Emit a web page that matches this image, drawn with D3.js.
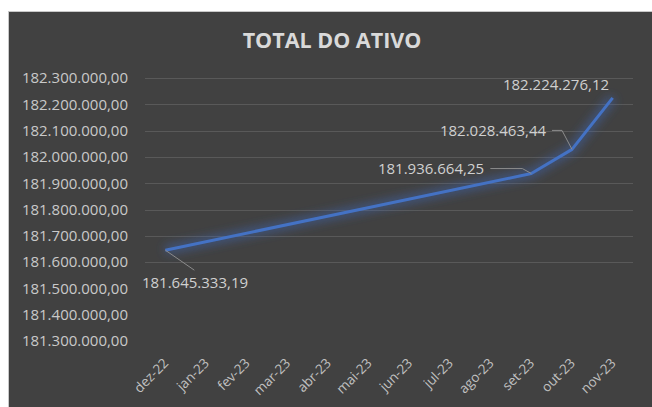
<!DOCTYPE html>
<html><head><meta charset="utf-8">
<script src="https://cdn.jsdelivr.net/npm/d3@7"></script>
<style>
html,body{margin:0;padding:0;background:#fff;}
svg{display:block;}
</style></head>
<body>
<svg id="c" width="652" height="407"></svg>
<script>
const categories = ["dez-22","jan-23","fev-23","mar-23","abr-23","mai-23","jun-23","jul-23","ago-23","set-23","out-23","nov-23"];
const values = [181645333.19, null, null, null, null, null, null, null, null, 181936664.25, 182028463.44, 182224276.12];
const yTicks = [181300000,181400000,181500000,181600000,181700000,181800000,181900000,182000000,182100000,182200000,182300000];
const gridTicks = [181600000,181700000,181800000,181900000,182000000,182100000,182200000,182300000];
const title = "TOTAL DO ATIVO";

const svg = d3.select("#c");
svg.append("rect").attr("x",8.5).attr("y",11.5).attr("width",660).attr("height",420)
  .attr("fill","#414141").attr("stroke","#c8c8c8").attr("stroke-width",1);

const defs = svg.append("defs");
const f = defs.append("filter").attr("id","glow").attr("x","-20%").attr("y","-50%").attr("width","140%").attr("height","200%");
f.append("feGaussianBlur").attr("in","SourceGraphic").attr("stdDeviation",5);

const x = d3.scaleBand().domain(categories).range([145,633]);
const y = d3.scaleLinear().domain([181300000,182300000]).range([341,78]);

const fmt = v => {
  const s = v.toFixed(2).split(".");
  return s[0].replace(/\B(?=(\d{3})+(?!\d))/g,".") + "," + s[1];
};

svg.append("text").attr("x",332).attr("y",48).attr("text-anchor","middle")
  .attr("font-family","Open Sans").attr("font-weight","bold").attr("font-size",21.5)
  .attr("fill","#d9d9d9").text(title);

svg.append("g").selectAll("line").data(gridTicks).join("line")
  .attr("x1",145).attr("x2",633).attr("y1",d=>Math.round(y(d))+0.5).attr("y2",d=>Math.round(y(d))+0.5)
  .attr("stroke","#595959").attr("stroke-width",1.2);

const yAxis = d3.axisLeft(y).tickValues(yTicks).tickSize(0).tickPadding(0).tickFormat(fmt);
const ga = svg.append("g").attr("transform","translate(128,0)").call(yAxis);
ga.select(".domain").remove();
ga.selectAll("text").attr("font-family","Open Sans").attr("font-size",15).attr("fill","#c9c9c9");

const xAxis = d3.axisBottom(x).tickSize(0).tickPadding(0);
const gx = svg.append("g").attr("transform","translate(0,350)").call(xAxis);
gx.select(".domain").remove();
gx.selectAll("text").attr("font-family","Open Sans").attr("font-size",13.5).attr("fill","#c0c0c0")
  .attr("text-anchor","end").attr("dy",0)
  .attr("transform","translate(4,14) rotate(-45)");

const pts = categories.map((c,i)=>({c, v: values[i]})).filter(d=>d.v!==null);
const line = d3.line().x(d=>x(d.c)+x.bandwidth()/2).y(d=>y(d.v));
svg.append("path").datum(pts).attr("d",line).attr("fill","none")
  .attr("stroke","#3f64b0").attr("stroke-width",9).attr("stroke-opacity",0.55).attr("stroke-linejoin","round")
  .attr("filter","url(#glow)");
svg.append("path").datum(pts).attr("d",line).attr("fill","none")
  .attr("stroke","#4472c4").attr("stroke-width",3).attr("stroke-linejoin","round");

const cx = c => x(c)+x.bandwidth()/2;
const labels = [
  {c:"dez-22", tx:195, ty:283, leader:[[0,0],[29,20]]},
  {c:"set-23", tx:431, ty:169, leader:[[-41,-5],[-9,-5],[0,0]]},
  {c:"out-23", tx:493, ty:131, leader:[[-20,-19],[-10,-19],[0,0]]},
  {c:"nov-23", tx:556, ty:85, leader:null}
];
labels.forEach(l=>{
  const v = values[categories.indexOf(l.c)];
  const px = cx(l.c), py = y(v);
  if(l.leader){
    svg.append("polyline").attr("points", l.leader.map(p=>[px+p[0],py+p[1]].join(",")).join(" "))
      .attr("fill","none").attr("stroke","#8c8c8c").attr("stroke-width",1);
  }
  svg.append("text").attr("x",l.tx).attr("y",l.ty).attr("dy","0.35em").attr("text-anchor","middle")
    .attr("font-family","Open Sans").attr("font-size",15).attr("fill","#d0d0d0").text(fmt(v));
});
</script>
</body></html>
